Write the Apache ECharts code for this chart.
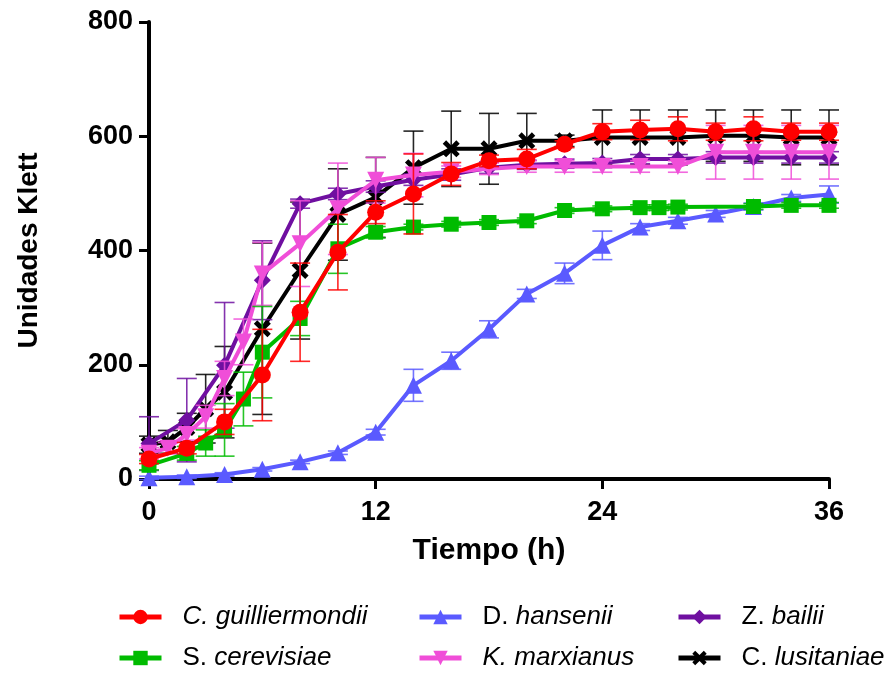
<!DOCTYPE html>
<html>
<head>
<meta charset="utf-8">
<script src="https://cdn.jsdelivr.net/npm/echarts@6/dist/echarts.min.js"></script>
<style>
html,body{margin:0;padding:0;background:#fff;}
#chart{width:896px;height:677px;}
</style>
</head>
<body>
<div id="chart"></div>
<script>
// ---- Data ----
const xTicks = [0, 12, 24, 36];
const yTicks = [0, 200, 400, 600, 800];

const names = ['C. guilliermondii', 'S. cerevisiae', 'D. hansenii', 'K. marxianus', 'Z. bailii', 'C. lusitaniae'];

const tRed = [0,2,4,6,8,10,12,14,16,18,20,22,24,26,28,30,32,34,36];
const vRed = [35,54,100,182,292,397,467,499,534,557,560,586,608,611,613,608,613,608,608];
const eRed = [8,10,22,80,86,66,20,70,20,10,17,6,14,17,21,15,21,15,15];

const tGreen = [0,2,3,4,5,6,8,10,12,14,16,18,20,22,24,26,27,28,32,34,36];
const vGreen = [24,45,63,86,140,222,281,403,432,441,446,449,452,470,473,475,475,476,477,479,479];
const eGreen = [8,12,23,46,47,80,30,43,10,5,5,5,5,5,5,5,5,5,5,5,5];

const tBlue = [0,2,4,6,8,10,12,14,16,18,20,22,24,26,28,30,32,34,36];
const vBlue = [2,4,8,17,30,46,82,164,207,262,324,360,409,441,452,464,477,492,498];
const eBlue = [3,3,3,3,3,3,5,28,15,15,8,18,25,6,6,6,6,6,15];

const tPink = [0,1,2,3,4,5,6,8,10,12,14,16,18,20,22,24,26,28,30,32,34,36];
const vPink = [45,54,78,109,176,240,359,412,473,523,532,538,543,547,547,547,547,547,572,572,572,572];
const ePink = [10,10,10,20,30,40,55,75,80,40,38,10,10,10,10,10,10,10,47,47,47,47];

const tPurple = [0,2,4,6,8,10,12,14,16,18,20,22,24,26,28,30,32,34,36];
const vPurple = [62,103,199,348,482,499,512,524,533,545,550,552,553,560,560,563,563,563,563];
const ePurple = [47,73,110,69,8,10,10,10,10,10,8,8,8,8,8,10,10,10,10];

const tBlack = [0,1,2,3,4,6,8,10,12,14,16,18,20,22,24,26,28,30,32,34,36];
const vBlack = [60,65,90,123,152,263,365,463,493,545,578,578,592,592,598,598,598,601,601,598,598];
const eBlack = [15,20,25,60,80,150,120,80,70,64,66,62,48,10,48,48,48,45,45,48,48];

// ---- Styles ----
const FONT = "'Liberation Sans', Arial, sans-serif";
const downTri = 'path://M0,0L10,0L5,9Z';
const xMark = 'path://M0,2L2,0L5,3L8,0L10,2L7,5L10,8L8,10L5,7L2,10L0,8L3,5Z';

const defs = [
  {name: names[0], t: tRed,    v: vRed,    e: eRed,    color: '#ff0000', sym: 'circle',  size: 17, z: 16},
  {name: names[1], t: tGreen,  v: vGreen,  e: eGreen,  color: '#00bb00', sym: 'rect',    size: 15, z: 14},
  {name: names[2], t: tBlue,   v: vBlue,   e: eBlue,   color: '#5a5aff', sym: 'triangle',size: 17, z: 12},
  {name: names[3], t: tPink,   v: vPink,   e: ePink,   color: '#f04ed8', sym: downTri,   size: 17, z: 10},
  {name: names[4], t: tPurple, v: vPurple, e: ePurple, color: '#6f0fa0', sym: 'diamond', size: 17, z: 8},
  {name: names[5], t: tBlack,  v: vBlack,  e: eBlack,  color: '#000000', sym: xMark,     size: 17, z: 6}
];

const series = [];
defs.forEach(d => {
  series.push({
    type: 'custom',
    name: d.name + ' err',
    z: d.z - 1,
    silent: true,
    data: d.t.map((x, i) => [x, d.v[i] - d.e[i], d.v[i] + d.e[i]]),
    encode: {x: 0, y: [1, 2]},
    renderItem: function (params, api) {
      const x = api.value(0);
      const lo = api.coord([x, api.value(1)]);
      const hi = api.coord([x, api.value(2)]);
      const w = 10;
      const st = {stroke: d.color, lineWidth: 1.6, opacity: 0.85};
      return {
        type: 'group',
        children: [
          {type: 'line', shape: {x1: lo[0], y1: lo[1], x2: hi[0], y2: hi[1]}, style: st},
          {type: 'line', shape: {x1: hi[0] - w, y1: hi[1], x2: hi[0] + w, y2: hi[1]}, style: st},
          {type: 'line', shape: {x1: lo[0] - w, y1: lo[1], x2: lo[0] + w, y2: lo[1]}, style: st}
        ]
      };
    }
  });
  series.push({
    type: 'line',
    name: d.name,
    z: d.z,
    data: d.t.map((x, i) => [x, d.v[i]]),
    symbol: d.sym,
    symbolSize: d.size,
    showAllSymbol: true,
    lineStyle: {color: d.color, width: 4},
    itemStyle: {color: d.color, borderWidth: 0},
    emphasis: {disabled: true}
  });
});

const richLegend = {
  n: {fontFamily: FONT, fontSize: 26, color: '#000', fontStyle: 'normal', lineHeight: 30},
  i: {fontFamily: FONT, fontSize: 26, color: '#000', fontStyle: 'italic', lineHeight: 30}
};
const legendText = {
  'C. guilliermondii': '{i|C. guilliermondii}',
  'S. cerevisiae': '{n|S. }{i|cerevisiae}',
  'D. hansenii': '{n|D. }{i|hansenii}',
  'K. marxianus': '{i|K. marxianus}',
  'Z. bailii': '{n|Z. }{i|bailii}',
  'C. lusitaniae': '{n|C. }{i|lusitaniae}'
};
function makeLegend(left, items) {
  return {
    data: items,
    orient: 'vertical',
    left: left,
    top: 604,
    padding: 0,
    itemGap: 15,
    itemWidth: 42,
    itemHeight: 18,
    selectedMode: false,
    lineStyle: {width: 5},
    formatter: n => legendText[n],
    textStyle: {padding: [0, 0, 0, 16], rich: richLegend}
  };
}

const option = {
  animation: false,
  backgroundColor: '#fff',
  grid: {left: 149, right: 67, top: 22, bottom: 198},
  xAxis: {
    type: 'value', min: 0, max: 36, interval: 12,
    name: 'Tiempo (h)', nameLocation: 'middle', nameGap: 57,
    nameTextStyle: {fontFamily: FONT, fontWeight: 'bold', fontSize: 30, color: '#000'},
    axisLine: {show: true, lineStyle: {color: '#000', width: 4}},
    axisTick: {show: true, length: 10, lineStyle: {color: '#000', width: 3}},
    axisLabel: {margin: 20, fontFamily: FONT, fontWeight: 'bold', fontSize: 27, color: '#000',
      formatter: v => xTicks.includes(v) ? String(v) : ''},
    splitLine: {show: false}
  },
  yAxis: {
    type: 'value', min: 0, max: 800, interval: 200,
    name: 'Unidades Klett', nameLocation: 'middle', nameGap: 106,
    nameTextStyle: {fontFamily: FONT, fontWeight: 'bold', fontSize: 28, color: '#000'},
    axisLine: {show: true, lineStyle: {color: '#000', width: 4}},
    axisTick: {show: true, length: 10, lineStyle: {color: '#000', width: 3}},
    axisLabel: {margin: 16, fontFamily: FONT, fontWeight: 'bold', fontSize: 27, color: '#000',
      formatter: v => yTicks.includes(v) ? String(v) : ''},
    splitLine: {show: false}
  },
  legend: [
    makeLegend(117, [names[0], names[1]]),
    makeLegend(417, [names[2], names[3]]),
    makeLegend(676, [names[4], names[5]])
  ],
  series: series
};

const chart = echarts.init(document.getElementById('chart'), null, {renderer: 'canvas'});
chart.setOption(option);
</script>
</body>
</html>
